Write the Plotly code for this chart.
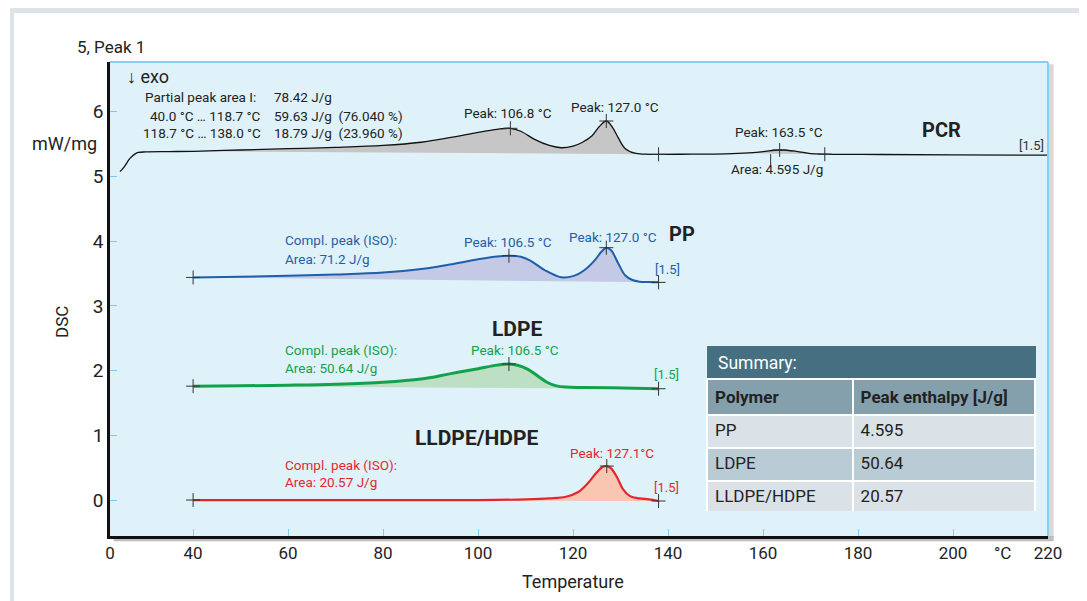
import plotly.graph_objects as go

# ---------------- data ----------------
pcr_t = [24.6, 25.5, 26.7, 27.8, 28.5, 30, 35, 40, 50, 60, 70, 80, 88, 94, 100, 104, 106.8,
         109, 112, 115, 117.5, 120, 122, 124, 125.5, 127, 128.3, 129.5, 131, 133, 135, 138,
         145, 152, 157, 160, 163.5, 167, 170, 173, 185, 200, 220]
pcr_v = [5.075, 5.15, 5.28, 5.35, 5.373, 5.38, 5.385, 5.39, 5.41, 5.43, 5.45, 5.48, 5.53, 5.60,
         5.683, 5.73, 5.745, 5.70, 5.57, 5.48, 5.445, 5.47, 5.53, 5.63, 5.77, 5.858, 5.76, 5.60,
         5.43, 5.36, 5.345, 5.343, 5.345, 5.35, 5.365, 5.385, 5.41, 5.39, 5.355, 5.345, 5.34,
         5.335, 5.33]
pcr_base1 = ([40, 138], [5.39, 5.343])
pcr_base2 = ([155, 173], [5.36, 5.345])

pp_t = [40, 50, 60, 70, 80, 88, 94, 100, 104, 106.5, 109, 111, 114, 117.5, 120, 122.5, 124.5,
        126, 127, 128, 129.5, 131, 132.5, 134, 136, 138]
pp_v = [3.44, 3.45, 3.465, 3.485, 3.515, 3.57, 3.64, 3.72, 3.765, 3.776, 3.76, 3.70, 3.555,
        3.442, 3.46, 3.56, 3.70, 3.84, 3.90, 3.86, 3.66, 3.47, 3.40, 3.375, 3.368, 3.364]
pp_base = ([40, 138], [3.44, 3.364])

ldpe_t = [40, 50, 60, 70, 80, 88, 94, 100, 104, 106.5, 108.5, 110.5, 112.5, 114.5, 116.5,
          118.5, 122, 128, 138]
ldpe_v = [1.76, 1.765, 1.775, 1.79, 1.82, 1.87, 1.95, 2.03, 2.085, 2.102, 2.08, 2.02, 1.92,
          1.82, 1.765, 1.745, 1.74, 1.735, 1.72]
ldpe_base = ([40, 138], [1.76, 1.72])

lldpe_t = [40, 60, 80, 100, 110, 115, 118.5, 121, 123, 125, 126.2, 127.1, 128, 129.2, 130.5,
           132, 134, 136, 138]
lldpe_v = [0.0, 0.0, 0.0, 0.0, 0.01, 0.025, 0.05, 0.12, 0.25, 0.43, 0.51, 0.525, 0.49, 0.36,
           0.17, 0.06, 0.025, 0.01, -0.015]
lldpe_base = ([40, 138], [0.0, -0.015])

# cross markers (peaks and integration limits)
pcr_mk_t = [106.8, 127.0, 138.0, 163.5, 173.0]
pcr_mk_v = [5.745, 5.858, 5.343, 5.41, 5.345]
pp_mk_t = [40, 106.5, 127.0, 138]
pp_mk_v = [3.44, 3.776, 3.90, 3.364]
ldpe_mk_t = [40, 106.5, 138]
ldpe_mk_v = [1.76, 2.102, 1.72]
lldpe_mk_t = [40, 127.1, 138]
lldpe_mk_v = [0.0, 0.525, -0.015]

x_tickvals = [22.5, 40, 60, 80, 100, 120, 140, 160, 180, 200, 220]
x_ticktext = ["0", "40", "60", "80", "100", "120", "140", "160", "180", "200", "220"]
y_tickvals = [0, 1, 2, 3, 4, 5, 6]

table_polymer = ["PP", "LDPE", "LLDPE/HDPE"]
table_enthalpy = ["4.595", "50.64", "20.57"]

FONT = "Roboto, Open Sans, sans-serif"
BLUE = "#1f5ea8"
GREEN = "#13a14c"
RED = "#e5262f"
AS = 13.5  # annotation font size

fig = go.Figure()


def add_fill(t, v, base, lo, hi, color):
    sel = [(a, b) for a, b in zip(t, v) if lo <= a <= hi]
    fig.add_trace(go.Scatter(x=base[0], y=base[1], mode="lines", line=dict(width=0),
                             hoverinfo="skip", showlegend=False))
    fig.add_trace(go.Scatter(x=[s[0] for s in sel], y=[s[1] for s in sel], mode="lines",
                             line=dict(width=0, shape="spline"), fill="tonexty",
                             fillcolor=color, hoverinfo="skip", showlegend=False))


add_fill(pcr_t, pcr_v, pcr_base1, 40, 138, "#c6c6c6")
add_fill(pcr_t, pcr_v, pcr_base2, 155, 173, "#c6c6c6")
add_fill(pp_t, pp_v, pp_base, 40, 138, "#c4c9e6")
add_fill(ldpe_t, ldpe_v, ldpe_base, 40, 138, "#bde0c5")
add_fill(lldpe_t, lldpe_v, lldpe_base, 40, 138, "#f9c6b2")

fig.add_trace(go.Scatter(x=pcr_t, y=pcr_v, mode="lines", name="PCR",
                         line=dict(color="#111111", width=1.3, shape="spline")))
fig.add_trace(go.Scatter(x=pp_t, y=pp_v, mode="lines", name="PP",
                         line=dict(color=BLUE, width=2, shape="spline")))
fig.add_trace(go.Scatter(x=ldpe_t, y=ldpe_v, mode="lines", name="LDPE",
                         line=dict(color=GREEN, width=3, shape="spline")))
fig.add_trace(go.Scatter(x=lldpe_t, y=lldpe_v, mode="lines", name="LLDPE/HDPE",
                         line=dict(color=RED, width=2.2, shape="spline")))

for mt, mv in [(pcr_mk_t, pcr_mk_v), (pp_mk_t, pp_mk_v), (ldpe_mk_t, ldpe_mk_v),
               (lldpe_mk_t, lldpe_mk_v)]:
    fig.add_trace(go.Scatter(x=mt, y=mv, mode="markers", hoverinfo="skip", showlegend=False,
                             marker=dict(symbol="cross-thin", size=10,
                                         line=dict(color="#333333", width=1))))
# area tick below the small PCR peak
fig.add_trace(go.Scatter(x=[161.6], y=[5.26], mode="markers", hoverinfo="skip",
                         showlegend=False,
                         marker=dict(symbol="line-ns", size=8,
                                     line=dict(color="#333333", width=1))))

# ---------------- table ----------------
fig.add_trace(go.Table(
    domain=dict(x=[0.6365, 0.9872], y=[0.0506, 0.331]),
    columnwidth=[146, 183],
    header=dict(values=["<b>Polymer</b>", "<b>Peak enthalpy [J/g]</b>"],
                fill_color="#85a0ad", align="left", height=33,
                line=dict(color="white", width=2),
                font=dict(family=FONT, size=17, color="#222222")),
    cells=dict(values=[table_polymer, table_enthalpy],
               fill_color=[["#dae1e7", "#b9ccd5", "#dae1e7"]] * 2,
               align="left", height=33, line=dict(color="white", width=2),
               font=dict(family=FONT, size=17, color="#222222")),
))

# ---------------- annotations ----------------
ann = []


def txt(x, y, s, color="#222222", size=AS, xanchor="center", bold=False, ref="data", **kw):
    d = dict(x=x, y=y, text=(f"<b>{s}</b>" if bold else s), showarrow=False,
             xanchor=xanchor, yanchor="middle",
             font=dict(family=FONT, size=size, color=color))
    if ref == "paper":
        d.update(xref="paper", yref="paper")
    d.update(kw)
    ann.append(d)


txt(25.7, 6.55, "↓ exo", size=18, xanchor="left")
txt(29.4, 6.23, "Partial peak area I:", xanchor="left")
txt(56.6, 6.23, "78.42 J/g", xanchor="left")
txt(54.7, 5.935, "40.0 °C … 118.7 °C", xanchor="right")
txt(56.6, 5.935, "59.63 J/g  (76.040 %)", xanchor="left")
txt(54.7, 5.672, "118.7 °C … 138.0 °C", xanchor="right")
txt(56.6, 5.672, "18.79 J/g  (23.960 %)", xanchor="left")
txt(106.2, 5.98, "Peak: 106.8 °C")
txt(128.9, 6.07, "Peak: 127.0 °C")
txt(163.4, 5.69, "Peak: 163.5 °C")
txt(163.0, 5.116, "Area: 4.595 J/g")
txt(197.5, 5.72, "PCR", size=20, bold=True)
txt(216.6, 5.487, "[1.5]", color="#333333", size=13)

txt(58.9, 4.02, "Compl. peak (ISO):", color=BLUE, xanchor="left")
txt(58.9, 3.725, "Area: 71.2 J/g", color=BLUE, xanchor="left")
txt(106.2, 3.99, "Peak: 106.5 °C", color=BLUE)
txt(128.5, 4.065, "Peak: 127.0 °C", color=BLUE)
txt(143.0, 4.11, "PP", size=20, bold=True)
txt(139.8, 3.57, "[1.5]", color=BLUE, size=13)

txt(108.3, 2.64, "LDPE", size=21, bold=True)
txt(58.9, 2.32, "Compl. peak (ISO):", color=GREEN, xanchor="left")
txt(58.9, 2.04, "Area: 50.64 J/g", color=GREEN, xanchor="left")
txt(107.7, 2.32, "Peak: 106.5 °C", color=GREEN)
txt(139.6, 1.947, "[1.5]", color=GREEN, size=13)

txt(99.7, 0.958, "LLDPE/HDPE", size=21, bold=True)
txt(58.9, 0.541, "Compl. peak (ISO):", color=RED, xanchor="left")
txt(58.9, 0.278, "Area: 20.57 J/g", color=RED, xanchor="left")
txt(128.1, 0.726, "Peak: 127.1°C", color=RED)
txt(139.6, 0.2, "[1.5]", color=RED, size=13)

txt(-0.0373, 1.0316, "5, Peak 1", size=17, xanchor="left", ref="paper")
txt(-0.048, 0.829, "mW/mg", size=18, ref="paper")
txt(-0.0512, 0.4515, "DSC", size=17, ref="paper", textangle=-90)
txt(0.4936, -0.097, "Temperature", size=18, ref="paper")
txt(0.952, -0.0359, "°C", size=17, ref="paper")
txt((716 - 110) / 938, 0.3654, "Summary:", color="white", size=17.5, xanchor="left",
    ref="paper")

# ---------------- shapes ----------------
shapes = [
    # outer light gray frame
    dict(type="rect", xref="paper", yref="paper", x0=-0.1066, x1=1.05, y0=1.1034, y1=1.1139,
         fillcolor="#dde3e8", line=dict(width=0), layer="below"),
    dict(type="rect", xref="paper", yref="paper", x0=-0.1066, x1=-0.1023, y0=-0.15, y1=1.1139,
         fillcolor="#dde3e8", line=dict(width=0), layer="below"),
    # shadow of plot frame
    dict(type="rect", xref="paper", yref="paper", x0=1.0, x1=1.006, y0=-0.006, y1=0.995,
         fillcolor="#d9d9d9", line=dict(width=0), layer="below"),
    dict(type="rect", xref="paper", yref="paper", x0=0.004, x1=1.006, y0=-0.011, y1=0.0,
         fillcolor="#bdbdbd", line=dict(width=0), layer="below"),
    # blue top/right border
    dict(type="line", xref="paper", yref="paper", x0=0, x1=1, y0=1, y1=1,
         line=dict(color="#86cfee", width=2)),
    dict(type="line", xref="paper", yref="paper", x0=1, x1=1, y0=0, y1=1,
         line=dict(color="#86cfee", width=2)),
    # Summary header bar
    dict(type="rect", xref="paper", yref="paper", x0=0.6365, x1=0.9872, y0=0.3333, y1=0.4008,
         fillcolor="#466f82", line=dict(width=0)),
]

# page body has an 8px margin, so the figure is 8px smaller and the margins shifted
fig.update_layout(
    width=1079, height=593,
    margin=dict(l=102, r=39, t=54, b=65),
    paper_bgcolor="white",
    plot_bgcolor="#dff2fa",
    showlegend=False,
    font=dict(family=FONT, color="#222222"),
    annotations=ann,
    shapes=shapes,
    xaxis=dict(range=[22.5, 220], tickvals=x_tickvals, ticktext=x_ticktext,
               showgrid=False, zeroline=False, showline=True, linecolor="#111111",
               linewidth=2.5, ticks="inside", ticklen=7, tickcolor="#7fcbec",
               tickfont=dict(family=FONT, size=17, color="#222222")),
    yaxis=dict(range=[-0.556, 6.77], tickvals=y_tickvals, showgrid=False, zeroline=False,
               showline=True, linecolor="#111111", linewidth=2.5, ticks="inside",
               ticklen=7, tickcolor="#7fcbec",
               tickfont=dict(family=FONT, size=19, color="#222222")),
)

fig.write_html("out.html")
